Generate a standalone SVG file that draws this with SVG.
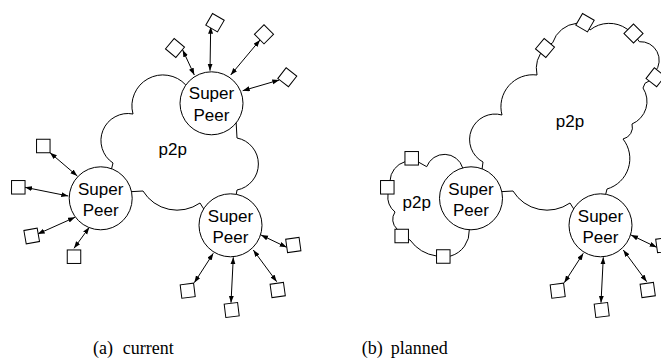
<svg xmlns="http://www.w3.org/2000/svg" width="661" height="360" viewBox="0 0 661 360">
<defs>
<marker id="ah" markerUnits="userSpaceOnUse" markerWidth="8" markerHeight="6" refX="7" refY="2.5" orient="auto-start-reverse" viewBox="0 0 8 6">
<path d="M0,0 L7,2.5 L0,5 Z" fill="#000"/>
</marker>
<rect id="sq" x="-6.75" y="-6.75" width="13.5" height="13.5"/>
</defs>
<style>
.cloud{fill:#fff;stroke:#000;stroke-width:1}
.sp{fill:#fff;stroke:#000;stroke-width:1}
#connectors line{stroke:#000;stroke-width:1;marker-start:url(#ah);marker-end:url(#ah)}
.peer{fill:#fff;stroke:#000;stroke-width:1}
text{font-family:"Liberation Sans",Arial,sans-serif;font-size:17px;fill:#000;text-anchor:middle}
text.cap{font-family:"Liberation Serif","Times New Roman",serif;font-size:18px;text-anchor:start}
</style>
<rect width="661" height="360" fill="#fff"/>

<!-- (a) current -->
<g id="cloud-a">
<path class="cloud" d="M110,175 L113,163 A27 27 0 0 1 133,114 A31 31 0 0 1 185.7,84.9 L211,103 L236,120 L237,138 A26.5 26.5 0 0 1 237,190 L236,196 L230,225 L205,211 L200,203 A40 40 0 0 1 143,191 L125,192 L100,198 Z"/>
<text x="172.7" y="154.5">p2p</text>
</g>

<!-- (b) planned clouds -->
<g id="cloud-b-big">
<path class="cloud" d="M471,198 L481.7,172 L483,162 A25.5 25.5 0 0 1 502,115 A32 32 0 0 1 537,75 A30 30 0 0 1 545,48 L552.7,42.7 A28 28 0 0 1 576.7,23.3 L585,22.7 L590,30 A31 31 0 0 1 627,29 L633.5,33.5 L639.3,41.7 A18.6 18.6 0 0 1 655,72 L655.5,77.3 L645,83.3 L643,88 A24.5 24.5 0 0 1 632,124 A12 12 0 0 1 623,139 A31.6 31.6 0 0 1 607,189 L605.5,195 L600,225 L575,211 L570,203 A40 40 0 0 1 513,191 L495,192 Z"/>
<text x="570" y="127">p2p</text>
</g>
<g id="cloud-b-small">
<path class="cloud" d="M471,198 L462.7,167.9 A19 19 0 0 0 426.7,166.7 L411.7,158.3 L405,161.7 A21 21 0 0 0 390,181 L387.3,187.3 L388,194 A20 20 0 0 0 395,212 A13 13 0 0 0 397,229 L401.7,236 L410,240 A40 40 0 0 0 436.5,256 L443.3,256.5 L450.7,256 A26 26 0 0 0 469.3,229.8 Z"/>
<text x="416.7" y="208">p2p</text>
</g>

<g id="connectors">
<line x1="182.7" y1="50" x2="194.3" y2="75"/>
<line x1="210.7" y1="26.7" x2="210" y2="70.7"/>
<line x1="260" y1="40" x2="230.7" y2="75"/>
<line x1="279.3" y1="80" x2="242.7" y2="90.7"/>
<line x1="50" y1="152.7" x2="77.3" y2="176"/>
<line x1="25" y1="187.3" x2="68.3" y2="196"/>
<line x1="37.7" y1="234" x2="75" y2="217.3"/>
<line x1="74" y1="248.3" x2="89.3" y2="227.3"/>
<line x1="286.7" y1="247.3" x2="261" y2="235"/>
<line x1="194.3" y1="282.7" x2="213.3" y2="253.3"/>
<line x1="231" y1="302.7" x2="233.3" y2="257.3"/>
<line x1="276.7" y1="281.7" x2="253.3" y2="250"/>
<line x1="656.7" y1="247.3" x2="631" y2="235"/>
<line x1="564.3" y1="282.7" x2="583.3" y2="253.3"/>
<line x1="601" y1="302.7" x2="603.3" y2="257.3"/>
<line x1="646.7" y1="281.7" x2="623.3" y2="250"/>
</g>

<!-- peers (a) -->
<g id="peer-a1" class="peer"><use href="#sq" transform="translate(175 48) rotate(40)"/></g>
<g id="peer-a2" class="peer"><use href="#sq" transform="translate(215 22.7) rotate(30)"/></g>
<g id="peer-a3" class="peer"><use href="#sq" transform="translate(264 34.3) rotate(45)"/></g>
<g id="peer-a4" class="peer"><use href="#sq" transform="translate(287.3 77.3) rotate(38)"/></g>
<g id="peer-a5" class="peer"><use href="#sq" transform="translate(43.3 146)"/></g>
<g id="peer-a6" class="peer"><use href="#sq" transform="translate(18.3 187.3)"/></g>
<g id="peer-a7" class="peer"><use href="#sq" transform="translate(31.7 236) rotate(-10)"/></g>
<g id="peer-a8" class="peer"><use href="#sq" transform="translate(74 256.7)"/></g>
<g id="peer-a9" class="peer"><use href="#sq" transform="translate(293.3 245) rotate(-8)"/></g>
<g id="peer-a10" class="peer"><use href="#sq" transform="translate(187.7 290.7) rotate(-7)"/></g>
<g id="peer-a11" class="peer"><use href="#sq" transform="translate(231.7 310) rotate(-7)"/></g>
<g id="peer-a12" class="peer"><use href="#sq" transform="translate(277.7 290) rotate(-8)"/></g>

<!-- peers (b) -->
<g id="peer-b1" class="peer"><use href="#sq" transform="translate(545 48) rotate(40)"/></g>
<g id="peer-b2" class="peer"><use href="#sq" transform="translate(585 22.7) rotate(30)"/></g>
<g id="peer-b3" class="peer"><use href="#sq" transform="translate(633.5 33.5) rotate(45)"/></g>
<g id="peer-b4" class="peer"><use href="#sq" transform="translate(655.5 77.3) rotate(38)"/></g>
<g id="peer-b5" class="peer"><use href="#sq" transform="translate(411.7 158.3)"/></g>
<g id="peer-b6" class="peer"><use href="#sq" transform="translate(387.3 187.3)"/></g>
<g id="peer-b7" class="peer"><use href="#sq" transform="translate(401.7 236)"/></g>
<g id="peer-b8" class="peer"><use href="#sq" transform="translate(443.3 256.5)"/></g>
<g id="peer-b9" class="peer"><use href="#sq" transform="translate(663.3 245) rotate(-8)"/></g>
<g id="peer-b10" class="peer"><use href="#sq" transform="translate(557.7 290.7) rotate(-7)"/></g>
<g id="peer-b11" class="peer"><use href="#sq" transform="translate(601.7 310) rotate(-7)"/></g>
<g id="peer-b12" class="peer"><use href="#sq" transform="translate(647.7 290) rotate(-8)"/></g>

<!-- super peers -->
<g id="sp-a-top"><circle class="sp" cx="211.5" cy="103.3" r="31.5"/><text x="211.5" y="99.3">Super</text><text x="211.5" y="121">Peer</text></g>
<g id="sp-a-left"><circle class="sp" cx="100.7" cy="198.3" r="31.5"/><text x="100.7" y="194.5">Super</text><text x="100.7" y="216">Peer</text></g>
<g id="sp-a-bottom"><circle class="sp" cx="230.5" cy="225.3" r="31.5"/><text x="230.5" y="221.5">Super</text><text x="230.5" y="243">Peer</text></g>
<g id="sp-b-left"><circle class="sp" cx="471" cy="198.3" r="31.5"/><text x="471" y="194.5">Super</text><text x="471" y="216">Peer</text></g>
<g id="sp-b-bottom"><circle class="sp" cx="600.5" cy="225.3" r="31.5"/><text x="600.5" y="221.5">Super</text><text x="600.5" y="243">Peer</text></g>

<text class="cap" x="93" y="354">(a)</text>
<text class="cap" x="122.7" y="354">current</text>
<text class="cap" x="361.7" y="354">(b)</text>
<text class="cap" x="390.7" y="354">planned</text>
</svg>
